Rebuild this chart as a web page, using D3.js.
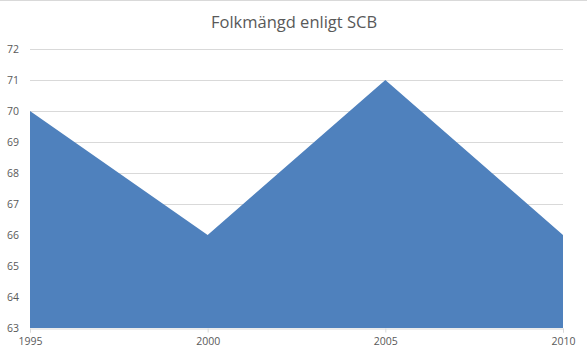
<!DOCTYPE html>
<html>
<head>
<meta charset="utf-8">
<script src="https://cdn.jsdelivr.net/npm/d3@7"></script>
<style>
  body { margin: 0; background: #fff; }
  text { font-family: "Open Sans", "Liberation Sans", sans-serif; }
</style>
</head>
<body>
<div id="chart"></div>
<script>
const years = ["1995", "2000", "2005", "2010"];
const population = [70, 66, 71, 66];
const yTicks = [63, 64, 65, 66, 67, 68, 69, 70, 71, 72];
const title = "Folkmängd enligt SCB";

const width = 587;
const height = 354;
const margin = { top: 49, right: 24, bottom: 26, left: 30 };

const svg = d3.select("#chart")
  .append("svg")
  .attr("width", width)
  .attr("height", height);

// chart frame top edge
svg.append("line")
  .attr("x1", 0).attr("x2", width)
  .attr("y1", 0.5).attr("y2", 0.5)
  .attr("stroke", "#d9d9d9");

const x = d3.scalePoint()
  .domain(years)
  .range([margin.left, width - margin.right]);

const y = d3.scaleLinear()
  .domain([63, 72])
  .range([height - margin.bottom, margin.top]);

// gridlines
svg.append("g")
  .selectAll("line")
  .data(yTicks.slice(1))
  .enter()
  .append("line")
  .attr("x1", margin.left)
  .attr("x2", width - margin.right)
  .attr("y1", d => Math.round(y(d)) + 0.5)
  .attr("y2", d => Math.round(y(d)) + 0.5)
  .attr("stroke", "#d9d9d9");

// area
const area = d3.area()
  .x((d, i) => x(years[i]))
  .y0(y(63))
  .y1(d => y(d));

svg.append("path")
  .datum(population)
  .attr("d", area)
  .attr("fill", "#4f81bd");

// x axis
const xAxis = svg.append("g")
  .attr("transform", `translate(0,${Math.round(y(63)) + 0.5})`)
  .call(d3.axisBottom(x).tickSize(4).tickPadding(5));
xAxis.select(".domain").attr("stroke", "#d9d9d9");
xAxis.selectAll(".tick line").attr("stroke", "#d9d9d9");
xAxis.selectAll(".tick text")
  .attr("fill", "#595959")
  .attr("font-size", "10.5px");

// y axis labels
svg.append("g")
  .selectAll("text")
  .data(yTicks)
  .enter()
  .append("text")
  .attr("x", 19)
  .attr("y", d => y(d))
  .attr("dy", "0.35em")
  .attr("text-anchor", "end")
  .attr("fill", "#595959")
  .attr("font-size", "10.5px")
  .text(d => d);

// title
svg.append("text")
  .attr("x", 294)
  .attr("y", 28)
  .attr("text-anchor", "middle")
  .attr("fill", "#595959")
  .attr("font-size", "16.5px")
  .text(title);
</script>
</body>
</html>
